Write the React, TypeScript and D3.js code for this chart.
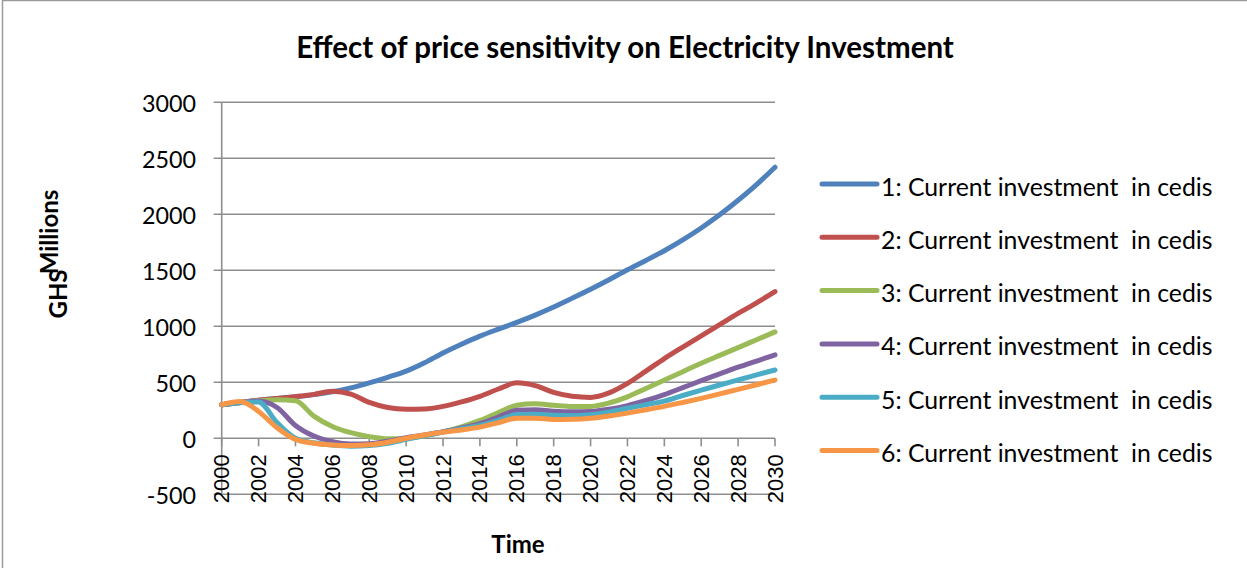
import React from 'react';
import * as d3 from 'd3';

// Simulation years (x categories)
const years = [
  2000, 2001, 2002, 2003, 2004, 2005, 2006, 2007, 2008, 2009, 2010,
  2011, 2012, 2013, 2014, 2015, 2016, 2017, 2018, 2019, 2020,
  2021, 2022, 2023, 2024, 2025, 2026, 2027, 2028, 2029, 2030,
];

// Current investment in cedis (GHS millions), one array per price-sensitivity run
const run1 = [
  300, 320, 340, 355, 370, 390, 415, 450, 495, 545, 600,
  675, 762, 840, 912, 975, 1035, 1100, 1172, 1250, 1330,
  1415, 1505, 1588, 1675, 1772, 1878, 1995, 2125, 2265, 2420,
];
const run2 = [
  300, 320, 340, 355, 372, 392, 420, 395, 320, 275, 260,
  262, 285, 325, 375, 440, 495, 470, 410, 375, 365,
  405, 490, 600, 712, 815, 915, 1015, 1115, 1210, 1310,
];
const run3 = [
  300, 320, 335, 345, 335, 198, 105, 50, 15, -5, 0,
  22, 58, 103, 160, 230, 295, 308, 295, 283, 285,
  315, 370, 445, 520, 595, 670, 740, 810, 880, 950,
];
const run4 = [
  300, 320, 332, 275, 115, 20, -30, -50, -48, -25, 5,
  30, 58, 92, 130, 190, 250, 255, 242, 236, 240,
  260, 292, 338, 390, 452, 515, 575, 635, 690, 745,
];
const run5 = [
  300, 318, 325, 140, 0, -40, -60, -70, -65, -45, -10,
  25, 55, 85, 115, 160, 212, 215, 205, 202, 210,
  235, 268, 300, 332, 382, 430, 476, 522, 566, 610,
];
const run6 = [
  300, 328, 240, 95, -10, -45, -60, -65, -58, -35, 0,
  30, 55, 75, 100, 140, 180, 180, 168, 170, 180,
  200, 225, 255, 285, 320, 357, 397, 437, 478, 520,
];

const seriesValues = [run1, run2, run3, run4, run5, run6];
const seriesNames = [
  '1: Current investment  in cedis',
  '2: Current investment  in cedis',
  '3: Current investment  in cedis',
  '4: Current investment  in cedis',
  '5: Current investment  in cedis',
  '6: Current investment  in cedis',
];
const seriesColors = ['#4F81BD', '#C0504D', '#9BBB59', '#8064A2', '#4BACC6', '#F79646'];

const yTicks = [-500, 0, 500, 1000, 1500, 2000, 2500, 3000];
const xTicks = [2000, 2002, 2004, 2006, 2008, 2010, 2012, 2014, 2016, 2018, 2020, 2022, 2024, 2026, 2028, 2030];

const W = 1247;
const H = 568;
const gridColor = '#8e8e8e';
const labelFont = 'Lato, "Open Sans", sans-serif';
const axisFont = '"Liberation Sans", Arial, sans-serif';

export default function App() {
  const x = d3.scaleLinear().domain([2000, 2030]).range([221.7, 775]);
  const y = d3.scaleLinear().domain([-500, 3000]).range([494.3, 102.3]);

  const line = d3
    .line<number>()
    .x((_, i) => x(years[i]))
    .y((d) => y(d))
    .curve(d3.curveMonotoneX);

  const legendX0 = 822;
  const legendX1 = 877;
  const legendY0 = 184;
  const legendStep = 53.3;

  return (
    <svg
      width={W}
      height={H}
      viewBox={`0 0 ${W} ${H}`}
      style={{ position: 'absolute', left: 0, top: 0, background: '#fff' }}
    >
      <rect x={0} y={0} width={W} height={H} fill="#fff" />
      {/* chart frame */}
      <rect x={2.5} y={0.5} width={W + 20} height={H + 20} fill="none" stroke="#9a9a9a" strokeWidth={1.5} />

      {/* title */}
      <text
        x={625}
        y={46}
        textAnchor="middle"
        dominantBaseline="central"
        fontFamily={labelFont}
        fontWeight={700}
        fontSize={29.5}
        fill="#000"
      >
        Effect of price sensitivity on Electricity Investment
      </text>

      {/* horizontal gridlines */}
      {yTicks.map((t) => (
        <line
          key={`g${t}`}
          x1={x(2000) - 8}
          x2={x(2030)}
          y1={y(t)}
          y2={y(t)}
          stroke={gridColor}
          strokeWidth={1.6}
        />
      ))}

      {/* vertical axis */}
      <line x1={x(2000)} x2={x(2000)} y1={y(3000)} y2={y(-500)} stroke={gridColor} strokeWidth={1.6} />

      {/* x ticks on the zero line */}
      {xTicks.map((t) => (
        <line
          key={`xt${t}`}
          x1={x(t)}
          x2={x(t)}
          y1={y(0)}
          y2={y(0) + 8}
          stroke={gridColor}
          strokeWidth={1.6}
        />
      ))}

      {/* y tick labels */}
      {yTicks.map((t) => (
        <text
          key={`yl${t}`}
          x={196}
          y={y(t) + 1}
          textAnchor="end"
          dominantBaseline="central"
          fontFamily={labelFont}
          fontSize={23.3}
          fill="#000"
        >
          {t}
        </text>
      ))}

      {/* x tick labels, rotated */}
      {xTicks.map((t) => (
        <text
          key={`xl${t}`}
          transform={`translate(${x(t)},${y(0) + 16}) rotate(-90)`}
          textAnchor="end"
          dominantBaseline="central"
          fontFamily={axisFont}
          fontSize={22}
          fill="#000"
        >
          {t}
        </text>
      ))}

      {/* series */}
      {seriesValues.map((vals, i) => (
        <path
          key={`s${i}`}
          d={line(vals) ?? ''}
          fill="none"
          stroke={seriesColors[i]}
          strokeWidth={5}
          strokeLinecap="round"
          strokeLinejoin="round"
        />
      ))}

      {/* axis titles */}
      <text
        x={518}
        y={543}
        textAnchor="middle"
        dominantBaseline="central"
        fontFamily={labelFont}
        fontWeight={700}
        fontSize={24}
        fill="#000"
      >
        Time
      </text>
      <text
        transform={`translate(58,232) rotate(-90)`}
        textAnchor="middle"
        fontFamily={labelFont}
        fontWeight={700}
        fontSize={24}
        fill="#000"
      >
        Millions
      </text>
      <text
        transform={`translate(67,294) rotate(-90)`}
        textAnchor="middle"
        fontFamily={labelFont}
        fontWeight={700}
        fontSize={24}
        fill="#000"
      >
        GHS
      </text>

      {/* legend */}
      {seriesNames.map((name, i) => {
        const ly = legendY0 + i * legendStep;
        return (
          <g key={`lg${i}`}>
            <line
              x1={legendX0}
              x2={legendX1}
              y1={ly}
              y2={ly}
              stroke={seriesColors[i]}
              strokeWidth={5}
              strokeLinecap="round"
            />
            <text
              x={881}
              y={ly + 2}
              dominantBaseline="central"
              fontFamily={labelFont}
              fontSize={24.8}
              fill="#000"
              style={{ whiteSpace: 'pre' }}
            >
              {name}
            </text>
          </g>
        );
      })}
    </svg>
  );
}
